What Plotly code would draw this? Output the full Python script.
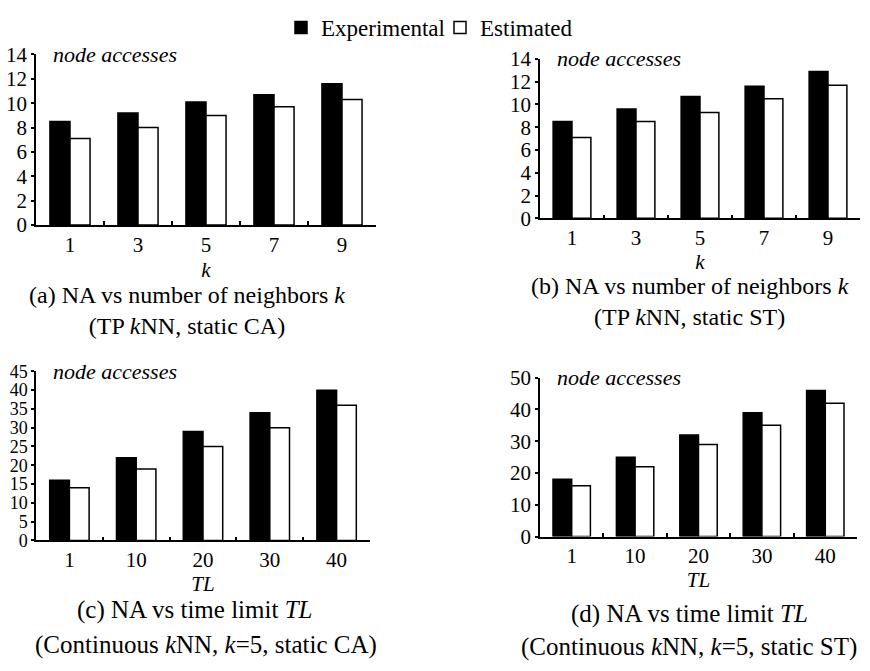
import plotly.graph_objects as go

W, H = 870, 671

# ---- data ----
k_labels = ["1", "3", "5", "7", "9"]
tl_labels = ["1", "10", "20", "30", "40"]

a_exp = [8.5, 9.2, 10.1, 10.7, 11.6]
a_est = [7.1, 8.0, 9.0, 9.7, 10.3]
b_exp = [8.5, 9.6, 10.7, 11.6, 12.9]
b_est = [7.1, 8.5, 9.3, 10.5, 11.7]
c_exp = [16, 22, 29, 34, 40]
c_est = [14, 19, 25, 30, 36]
d_exp = [18, 25, 32, 39, 46]
d_est = [16, 22, 29, 35, 42]

y_a_ticks = list(range(0, 15, 2))
y_b_ticks = list(range(0, 15, 2))
y_c_ticks = list(range(0, 46, 5))
y_d_ticks = list(range(0, 51, 10))

FONT = "'Liberation Serif', 'Times New Roman', Times, 'DejaVu Serif', serif"

def px(x):
    return x / W

def py(y):
    return 1 - y / H

fig = go.Figure()

panels = [
    # axes, labels, values, y ticks, ymax, x px domain, y px domain, x title, y tick size, title standoff
    ("x", "y", k_labels, a_exp, a_est, y_a_ticks, 14, (36, 376), (221, 44), "<i>k</i>", 21, 6),
    ("x2", "y2", k_labels, b_exp, b_est, y_b_ticks, 14, (540, 860), (214, 48.7), "<i>k</i>", 21, 0),
    ("x3", "y3", tl_labels, c_exp, c_est, y_c_ticks, 45, (36, 370), (548, 372.7), "<i>TL</i>", 18, 5),
    ("x4", "y4", tl_labels, d_exp, d_est, y_d_ticks, 50, (540, 857), (544, 379.3), "<i>TL</i>", 21, 1),
]

layout_axes = {}
annotations = []
for i, (xa, ya, labels, exp, est, yticks, ymax, xd, yd, xtitle, yfs, tso) in enumerate(panels):
    fig.add_trace(go.Bar(x=labels, y=exp, name="Experimental", xaxis=xa, yaxis=ya,
                         marker=dict(color="black", line=dict(color="black", width=1.5)),
                         showlegend=(i == 0), legendgroup="exp", legend="legend"))
    fig.add_trace(go.Bar(x=labels, y=est, name="Estimated", xaxis=xa, yaxis=ya,
                         marker=dict(color="white", line=dict(color="black", width=1.5)),
                         showlegend=(i == 0), legendgroup="est", legend="legend2"))
    xkey = "xaxis" + ("" if xa == "x" else xa[1:])
    ykey = "yaxis" + ("" if ya == "y" else ya[1:])
    layout_axes[xkey] = dict(
        domain=[px(xd[0]), px(xd[1])], anchor=ya, type="category",
        showline=True, linecolor="black", linewidth=1.5, mirror=False,
        ticks="inside", tickson="boundaries", ticklen=4, tickwidth=1.5, tickcolor="black",
        showgrid=False, zeroline=False,
        tickfont=dict(family=FONT, size=21, color="black"),
        ticklabelstandoff=0,
        title=dict(text=xtitle, font=dict(family=FONT, size=21, color="black"), standoff=tso),
        fixedrange=True,
    )
    layout_axes[ykey] = dict(
        domain=[py(yd[0]), py(yd[1])], anchor=xa, range=[0, ymax],
        tickmode="array", tickvals=yticks, ticktext=[str(t) for t in yticks],
        showline=True, linecolor="black", linewidth=1.5,
        ticks="outside", ticklen=3, tickwidth=1.5, tickcolor="black",
        showgrid=False, zeroline=False,
        tickfont=dict(family=FONT, size=yfs, color="black"),
        ticklabelstandoff=0,
        fixedrange=True,
    )
    annotations.append(dict(
        text="<i>node accesses</i>", xref="paper", yref="paper",
        x=px(xd[0] + 15), y=py(yd[1]), xanchor="left", yanchor="middle",
        showarrow=False, font=dict(family=FONT, size=22, color="black")))

# two-line captions (tightly spaced lines) for the top row
top_captions = [
    ("(a) NA vs number of neighbors <i>k</i><br>(TP <i>k</i>NN, static CA)", 187, 310),
    ("(b) NA vs number of neighbors <i>k</i><br>(TP <i>k</i>NN, static ST)", 690, 300),
]
for text, cx, cy in top_captions:
    annotations.append(dict(
        text=text, xref="paper", yref="paper", x=px(cx), y=py(cy),
        xanchor="center", yanchor="middle", align="center", showarrow=False,
        font=dict(family=FONT, size=24, color="black")))

# widely spaced caption lines for the bottom row
bottom_captions = [
    ("(c) NA vs time limit <i>TL</i>", 194, 620),
    ("(Continuous <i>k</i>NN, <i>k</i>=5, static CA)", 206, 656),
    ("(d) NA vs time limit <i>TL</i>", 689, 624),
    ("(Continuous <i>k</i>NN, <i>k</i>=5, static ST)", 689, 659),
]
for text, cx, cy in bottom_captions:
    annotations.append(dict(
        text=text, xref="paper", yref="paper", x=px(cx), y=py(cy),
        xanchor="center", yanchor="middle", showarrow=False,
        font=dict(family=FONT, size=25, color="black")))

legend_common = dict(orientation="h", yanchor="middle", y=py(16), xanchor="left",
                     font=dict(family=FONT, size=23, color="black"),
                     bgcolor="rgba(0,0,0,0)", itemwidth=30)

fig.update_layout(
    width=W, height=H,
    margin=dict(l=0, r=0, t=0, b=0),
    paper_bgcolor="white", plot_bgcolor="white",
    barmode="group", bargap=0.41, bargroupgap=0,
    font=dict(family=FONT, size=21, color="black"),
    legend=dict(x=px(281), **legend_common),
    legend2=dict(x=px(440), **legend_common),
    annotations=annotations,
    **layout_axes,
)

fig.write_html("out.html")
